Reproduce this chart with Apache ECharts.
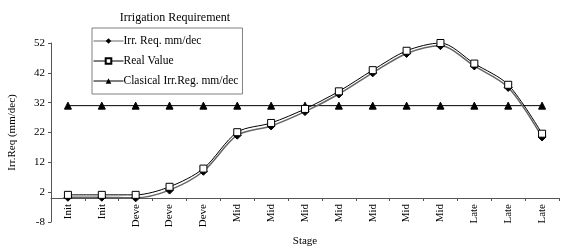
<!DOCTYPE html>
<html>
<head>
<meta charset="utf-8">
<script src="https://cdn.jsdelivr.net/npm/echarts@6/dist/echarts.min.js"></script>
<style>
  html, body { margin: 0; padding: 0; background: #fff; }
  #chart { width: 566px; height: 246px; }
</style>
</head>
<body>
<div id="chart"></div>
<script>
var stages = ['Init', 'Init', 'Deve', 'Deve', 'Deve', 'Mid', 'Mid', 'Mid', 'Mid', 'Mid', 'Mid', 'Mid', 'Late', 'Late', 'Late']
var irrReq = [0.3, 0.3, 0.1, 2.7, 9.0, 21.1, 24.2, 29.0, 34.9, 42.0, 48.5, 51.1, 44.3, 37.1, 20.5]
var realValue = [1.1, 1.1, 1.1, 3.8, 9.9, 22.1, 25.2, 29.9, 35.8, 42.9, 49.4, 52.0, 45.1, 38.0, 21.6]
var classical = [31, 31, 31, 31, 31, 31, 31, 31, 31, 31, 31, 31, 31, 31, 31]

var font = 'Liberation Serif, Times New Roman, serif'
var chart = echarts.init(document.getElementById('chart'))
chart.setOption({
  animation: false,
  textStyle: { fontFamily: font, color: '#000' },
  title: {
    text: 'Irrigation Requirement',
    left: 170,
    top: 7,
    textAlign: 'center',
    textStyle: { fontFamily: font, fontSize: 12, fontWeight: 'normal', color: '#000' }
  },
  legend: {
    orient: 'vertical',
    left: 92,
    top: 28,
    padding: [7, 4, 7, 1],
    itemGap: 8,
    itemWidth: 30,
    itemHeight: 7,
    borderColor: '#808080',
    borderWidth: 1,
    lineStyle: { width: 1 },
    textStyle: { fontFamily: font, fontSize: 11.5, color: '#000', padding: [0, 0, 0, -5] },
    data: ['Irr. Req. mm/dec', 'Real Value', 'Clasical Irr.Reg. mm/dec']
  },
  grid: { left: 51, right: 7, top: 43, bottom: 24, outerBoundsMode: 'none' },
  xAxis: {
    type: 'category',
    data: stages,
    boundaryGap: true,
    // the axis crosses at 0 (8 units above -8)
    offset: -24,
    name: 'Stage',
    nameLocation: 'middle',
    nameGap: 38,
    nameTextStyle: { fontFamily: font, fontSize: 11, color: '#000' },
    axisLine: { onZero: false, lineStyle: { color: '#555', width: 1 } },
    axisTick: { show: true, inside: false, length: 3, lineStyle: { color: '#555' } },
    axisLabel: { rotate: 90, fontFamily: font, fontSize: 11, color: '#000', interval: 0, margin: 6 },
    splitLine: { show: false }
  },
  yAxis: {
    type: 'value',
    min: -8,
    max: 52,
    interval: 10,
    name: 'Irr.Req (mm/dec)',
    nameLocation: 'middle',
    nameGap: 33,
    nameTextStyle: { fontFamily: font, fontSize: 11, color: '#000' },
    axisLine: { show: true, lineStyle: { color: '#555', width: 1 } },
    axisTick: { show: true, length: 3, lineStyle: { color: '#555' } },
    axisLabel: { fontFamily: font, fontSize: 11, color: '#000', margin: 6 },
    splitLine: { show: false }
  },
  series: [
    {
      name: 'Irr. Req. mm/dec',
      type: 'line',
      data: irrReq,
      smooth: 0.3,
      symbol: 'diamond',
      symbolSize: 8,
      itemStyle: { color: '#000', borderColor: '#000' },
      lineStyle: { color: '#666', width: 1.5 },
      z: 3
    },
    {
      name: 'Real Value',
      type: 'line',
      data: realValue,
      smooth: 0.3,
      symbol: 'rect',
      symbolSize: 7,
      itemStyle: { color: '#fff', borderColor: '#000', borderWidth: 1 },
      lineStyle: { color: '#000', width: 1 },
      z: 4
    },
    {
      name: 'Clasical Irr.Reg. mm/dec',
      type: 'line',
      data: classical,
      symbol: 'triangle',
      symbolSize: 7,
      itemStyle: { color: '#000', borderColor: '#000' },
      lineStyle: { color: '#000', width: 1 },
      z: 2
    }
  ]
})
</script>
</body>
</html>
